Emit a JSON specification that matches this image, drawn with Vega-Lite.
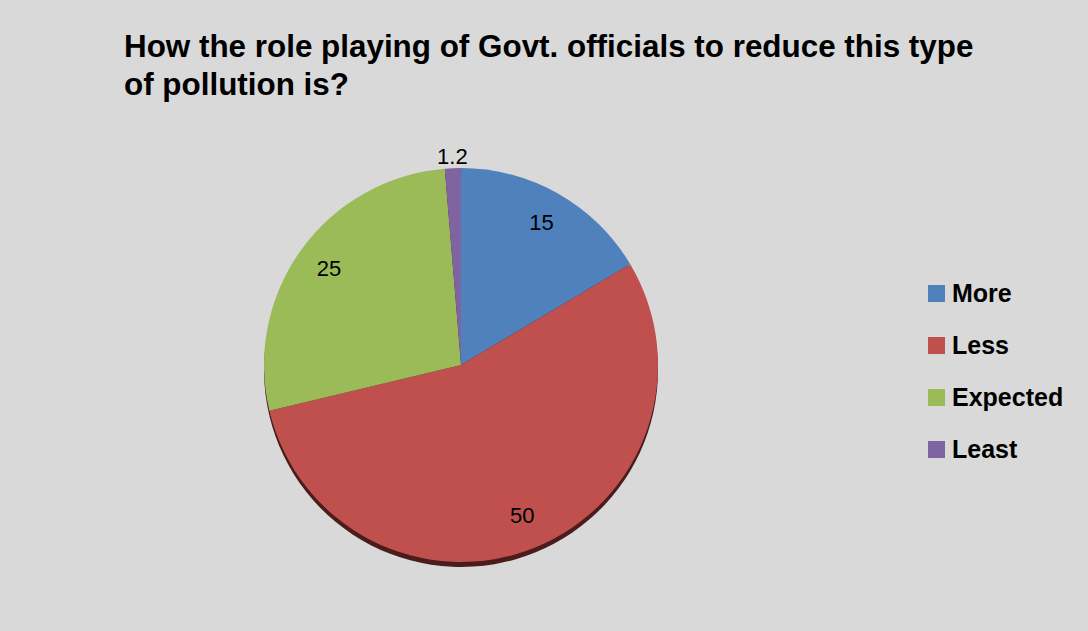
{
  "$schema": "https://vega.github.io/schema/vega-lite/v6.json",
  "width": 402,
  "height": 400,
  "autosize": {"type": "none"},
  "padding": {"left": 260, "top": 165, "right": 426, "bottom": 66},
  "background": "#d9d9d9",
  "title": {
    "text": ["How the role playing of Govt. officials to reduce this type", "of pollution is?"],
    "anchor": "start",
    "frame": "group",
    "font": "Liberation Sans",
    "fontSize": 31.4,
    "fontWeight": "bold",
    "color": "#000000",
    "lineHeight": 38,
    "dx": -136,
    "offset": 45
  },
  "data": {
    "values": [
      {"category": "More", "value": 15, "rank": 1},
      {"category": "Less", "value": 50, "rank": 2},
      {"category": "Expected", "value": 25, "rank": 3},
      {"category": "Least", "value": 1.2, "rank": 4}
    ]
  },
  "encoding": {
    "theta": {"field": "value", "type": "quantitative", "stack": true},
    "order": {"field": "rank", "type": "quantitative"}
  },
  "layer": [
    {
      "mark": {"type": "arc", "radius": 197, "yOffset": 5, "color": "#4a1c1c"}
    },
    {
      "mark": {"type": "arc", "radius": 197},
      "encoding": {
        "color": {
          "field": "category",
          "type": "nominal",
          "sort": ["More", "Less", "Expected", "Least"],
          "scale": {
            "domain": ["More", "Less", "Expected", "Least"],
            "range": ["#4f81bd", "#c0504d", "#9bbb59", "#8064a2"]
          },
          "legend": {
            "title": null,
            "orient": "none",
            "legendX": 664,
            "legendY": 116,
            "symbolType": "square",
            "symbolSize": 289,
            "symbolStrokeWidth": 0,
            "symbolOpacity": 1,
            "labelFont": "Liberation Sans",
            "labelFontSize": 25,
            "labelFontWeight": "bold",
            "labelColor": "#000000",
            "labelOffset": 3,
            "rowPadding": 26
          }
        }
      }
    },
    {
      "mark": {"type": "text", "radius": 163, "font": "Liberation Sans", "fontSize": 22, "color": "#000000"},
      "encoding": {
        "text": {
          "condition": {"test": "datum.value < 5", "value": ""},
          "field": "value",
          "type": "quantitative"
        }
      }
    },
    {
      "mark": {"type": "text", "radius": 208, "font": "Liberation Sans", "fontSize": 22, "color": "#000000"},
      "encoding": {
        "text": {
          "condition": {"test": "datum.value >= 5", "value": ""},
          "field": "value",
          "type": "quantitative"
        }
      }
    }
  ]
}
